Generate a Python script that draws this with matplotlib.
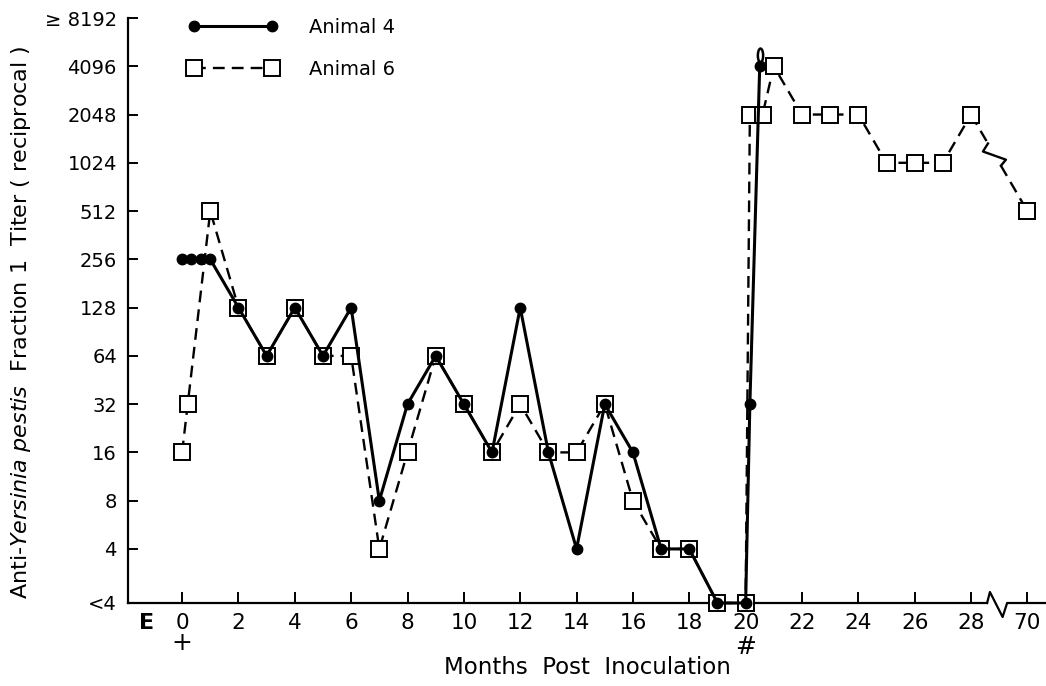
import numpy as np
import matplotlib
matplotlib.use("Agg")
import matplotlib.pyplot as plt
from matplotlib.path import Path
from matplotlib.transforms import Affine2D, ScaledTranslation, blended_transform_factory

# titers ("<4" = below detection)
months_a4 = [0, 0.33, 0.67, 1, 2, 3, 4, 5, 6, 7, 8, 9, 10, 11, 12, 13, 14, 15, 16, 17, 18, 19, 20, 20.15, 20.5]
titer_a4 = [256, 256, 256, 256, 128, 64, 128, 64, 128, 8, 32, 64, 32, 16, 128, 16, 4, 32, 16, 4, 4,
            "<4", "<4", 32, 4096]
months_a6 = [0, 0.2, 1, 2, 3, 4, 5, 6, 7, 8, 9, 10, 11, 12, 13, 14, 15, 16, 17, 18, 19, 20,
             20.15, 20.6, 21, 22, 23, 24, 25, 26, 27, 28, 70]
titer_a6 = [16, 32, 512, 128, 64, 128, 64, 64, 4, 16, 64, 32, 16, 32, 16, 16, 32, 8, 4, 4, "<4", "<4",
            2048, 2048, 4096, 2048, 2048, 2048, 1024, 1024, 1024, 2048, 512]

ytick_vals = ["<4", 4, 8, 16, 32, 64, 128, 256, 512, 1024, 2048, 4096, 8192]
ytick_labels = ["<4", "4", "8", "16", "32", "64", "128", "256", "512", "1024", "2048", "4096", "\u2265 8192"]
xtick_months = [0, 2, 4, 6, 8, 10, 12, 14, 16, 18, 20, 22, 24, 26, 28, 70]

LT4 = 1.84          # where "<4" sits on the log2 axis
BREAK_POS = 30.0    # month 70 drawn just after the axis break


def yv(t):
    return LT4 if t == "<4" else t


def xv(m):
    return BREAK_POS if m > 28 else m


fig = plt.figure(figsize=(10.46, 6.86), dpi=100)
ax = fig.add_axes([128 / 1046, 1 - 603 / 686, 1 - 128 / 1046, (603 - 18) / 686])
ax.set_yscale("log", base=2)
ax.set_ylim(LT4, 8192)
ax.set_xlim(-1.92, 30.66)

x4 = [xv(m) for m in months_a4]
y4 = [yv(t) for t in titer_a4]
x6 = [xv(m) for m in months_a6]
y6 = [yv(t) for t in titer_a6]

dash = (0, (5, 3))

# animal 6: dashed with open squares; last segment (28 -> 70) has a break
ax.plot(x6[:-1], y6[:-1], ls=dash, color="black", lw=1.7, zorder=2, clip_on=False)
sq_kw = dict(marker="s", ms=11.5, mfc="white", mec="black", mew=1.4, ls="none", zorder=3, clip_on=False)
ax.plot(x6, y6, **sq_kw)

# animal 4: solid with filled circles
ax.plot(x4, y4, ls="-", color="black", lw=2.2, marker="o", ms=7.5, mfc="black", mec="black",
        zorder=4, clip_on=False)

# broken segment between month 28 and 70
to_px = ax.transData
p0 = to_px.transform((x6[-2], y6[-2]))
p1 = to_px.transform((x6[-1], y6[-1]))
A = p0 + 0.30 * (p1 - p0)
B = p0 + 0.53 * (p1 - p0)
inv = ax.transData.inverted()
seg1 = inv.transform([p0, A])
seg2 = inv.transform([B, p1])
zig = inv.transform([A, A + np.array([-5, -8]), B + np.array([5, 6]), B])
ax.plot(seg1[:, 0], seg1[:, 1], ls=dash, color="black", lw=1.7, zorder=2)
ax.plot(seg2[:, 0], seg2[:, 1], ls=dash, color="black", lw=1.7, zorder=2)
ax.plot(zig[:, 0], zig[:, 1], ls="-", color="black", lw=1.7, zorder=2)
ax.plot(x6[-2:], y6[-2:], **sq_kw)

# off-scale loop above the last animal 4 point
loop = Path(Affine2D().scale(0.38, 1.0).transform(Path.unit_circle().vertices), Path.unit_circle().codes)
off = ScaledTranslation(0, 11 / 100, fig.dpi_scale_trans)
ax.plot([x4[-1]], [y4[-1]], marker=loop, ms=10, mfc="none", mec="black", mew=1.8, ls="none",
        transform=ax.transData + off, zorder=5, clip_on=False)

# axes styling
for s in ["top", "right"]:
    ax.spines[s].set_visible(False)
ax.spines["left"].set_linewidth(1.6)
ax.spines["bottom"].set_linewidth(1.6)
ax.spines["bottom"].set_bounds(-1.92, 28.57)

# x-axis break zigzag and continuation
bt = blended_transform_factory(ax.transData, ax.transAxes)
axh = (603 - 18)
ax.plot([28.57, 28.67, 29.12, 29.28, 30.66], [0, 11 / axh, -14 / axh, 0, 0], color="black", lw=1.6,
        transform=bt, clip_on=False)

ax.set_yticks([yv(v) for v in ytick_vals])
ax.set_yticklabels(ytick_labels)
ax.minorticks_off()
ax.tick_params(axis="y", direction="in", length=7, width=1.4, pad=8, labelsize=14)
ax.set_xticks([xv(m) for m in xtick_months])
ax.set_xticklabels([str(m) for m in xtick_months])
ax.tick_params(axis="x", direction="in", length=8, width=1.4, pad=7, labelsize=15.5)

ax.text(-1.25, -0.034, "E", transform=bt, fontsize=16, fontweight="bold", ha="center", va="center")
ax.text(0, -0.069, "+", transform=bt, fontsize=18, ha="center", va="center")
ax.text(20, -0.076, "#", transform=bt, fontsize=18, ha="center", va="center")

ax.set_xlabel("Months  Post  Inoculation", fontsize=16.5, labelpad=17)
ax.set_ylabel(r"Anti-$\it{Yersinia\ pestis}$  Fraction 1  Titer ( reciprocal )", fontsize=16)
ax.yaxis.set_label_coords(-0.104, 0.48)

leg = ax.legend(
    [plt.Line2D([], [], ls="-", color="black", lw=2.2, marker="o", ms=7.5, mfc="black"),
     plt.Line2D([], [], ls=dash, color="black", lw=1.7, marker="s", ms=11.5, mfc="white", mew=1.4)],
    ["Animal 4", "Animal 6"], loc="upper left", bbox_to_anchor=(0.047, 1.03), frameon=False,
    numpoints=2, handlelength=4.6, handletextpad=1.6, labelspacing=1.2, fontsize=14)

fig.savefig("out.png", dpi=100)
